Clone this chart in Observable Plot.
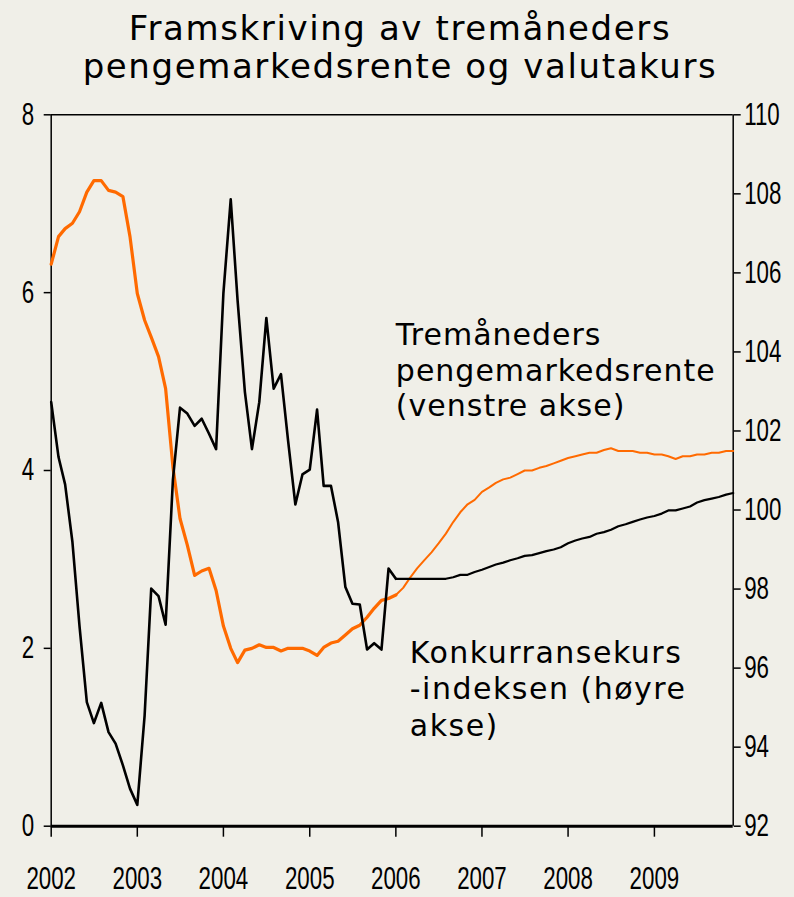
<!DOCTYPE html>
<html>
<head>
<meta charset="utf-8">
<script src="https://cdn.jsdelivr.net/npm/d3@7"></script>
<script src="https://cdn.jsdelivr.net/npm/@observablehq/plot@0.6"></script>
<style>
  html, body { margin: 0; padding: 0; background: #f0efe8; }
  #title {
    box-sizing: border-box; height: 100px; padding-top: 9px; padding-left: 6px;
    font-family: "DejaVu Sans", Verdana, sans-serif; font-size: 34px; line-height: 38px;
    text-align: center; color: #000; letter-spacing: 1.6px;
  }
  #chart svg { display: block; overflow: visible; }
</style>
</head>
<body>
<div id="title">Framskriving av tremåneders<br>pengemarkedsrente og valutakurs</div>
<div id="chart"></div>
<script>
// Monthly data, January 2002 – December 2009
const startYear = 2002;
const rente = [
  6.32, 6.63, 6.72, 6.78, 6.91, 7.13, 7.26, 7.26, 7.15, 7.13, 7.08, 6.63,
  5.99, 5.69, 5.50, 5.28, 4.92, 4.04, 3.46, 3.16, 2.82, 2.87, 2.90, 2.65,
  2.25, 2.00, 1.84, 1.98, 2.00, 2.04, 2.01, 2.01, 1.97, 2.00, 2.00, 2.00,
  1.97, 1.92, 2.01, 2.06, 2.08, 2.15, 2.22, 2.26, 2.35, 2.45, 2.54, 2.56,
  2.60, 2.68, 2.79, 2.90, 2.99, 3.08, 3.18, 3.29, 3.42, 3.53, 3.62, 3.67,
  3.76, 3.81, 3.86, 3.90, 3.92, 3.96, 4.00, 4.00, 4.03, 4.05, 4.08, 4.11,
  4.14, 4.16, 4.18, 4.20, 4.20, 4.23, 4.25, 4.22, 4.22, 4.22, 4.20, 4.20,
  4.18, 4.18, 4.16, 4.13, 4.16, 4.16, 4.18, 4.18, 4.20, 4.20, 4.22, 4.22
];
const kurs = [
  102.73, 101.34, 100.65, 99.19, 97.06, 95.14, 94.61, 95.12, 94.38, 94.09, 93.54, 92.95,
  92.54, 94.80, 98.01, 97.82, 97.10, 100.77, 102.59, 102.44, 102.13, 102.31, 101.93, 101.54,
  105.49, 107.86, 105.31, 102.99, 101.54, 102.73, 104.86, 103.07, 103.44, 101.76, 100.14, 100.90,
  101.02, 102.54, 100.61, 100.61, 99.70, 98.05, 97.63, 97.61, 96.47, 96.63, 96.47, 98.52,
  98.26, 98.26, 98.26, 98.26, 98.26, 98.26, 98.26, 98.26, 98.30, 98.36, 98.36, 98.43,
  98.49, 98.56, 98.62, 98.67, 98.73, 98.78, 98.84, 98.86, 98.91, 98.96, 99.00, 99.06,
  99.16, 99.23, 99.28, 99.32, 99.40, 99.44, 99.50, 99.59, 99.64, 99.70, 99.76, 99.81,
  99.85, 99.91, 99.99, 99.99, 100.04, 100.09, 100.19, 100.25, 100.29, 100.33, 100.39, 100.43
];
const forecastStart = 48; // January 2006: projection begins
const yearTicks = [2002, 2003, 2004, 2005, 2006, 2007, 2008, 2009];
const leftTicks = [0, 2, 4, 6, 8];
const rightTicks = [92, 94, 96, 98, 100, 102, 104, 106, 108, 110];
const leftDomain = [0, 8];
const rightDomain = [92, 110];
const labelTexts = ["Tremåneders\npengemarkedsrente\n(venstre akse)", "Konkurransekurs\n-indeksen (høyre\nakse)"];
const labelMonths = [48, 50];
const labelValues = [5.69, 2.13];
const labelSpacing = [1.0, 1.5];

// ---- build tables
const monthDate = (m) => new Date(Date.UTC(startYear, m, 1));
const toLeft = (v) => (v - rightDomain[0]) / (rightDomain[1] - rightDomain[0]) * (leftDomain[1] - leftDomain[0]) + leftDomain[0];
const fromLeft = (d) => rightDomain[0] + (d - leftDomain[0]) / (leftDomain[1] - leftDomain[0]) * (rightDomain[1] - rightDomain[0]);
const renteRows = rente.map((v, i) => ({date: monthDate(i), v, i}));
const kursRows = kurs.map((v, i) => ({date: monthDate(i), v: toLeft(v), i}));
const labels = labelTexts.map((t, i) => ({date: monthDate(labelMonths[i]), v: labelValues[i], t}));
const xStart = monthDate(0), xEnd = monthDate(rente.length - 1);

const tickFont = "'Liberation Sans', Arial, sans-serif";
const labelFont = "'DejaVu Sans', Verdana, sans-serif";
const orange = "#ff6a00";

const chart = Plot.plot({
  width: 794,
  height: 797,
  marginTop: 14.3,
  marginBottom: 71.3,
  marginLeft: 50.7,
  marginRight: 61.3,
  style: {background: "transparent", color: "#000", fontFamily: tickFont, overflow: "visible"},
  x: {type: "utc", domain: [xStart, xEnd]},
  y: {domain: leftDomain},
  marks: [
    Plot.axisX({ticks: yearTicks.map(y => new Date(Date.UTC(y, 0, 1))), tickFormat: d => String(d.getUTCFullYear()),
      tickSize: 11, tickPadding: 30, fontSize: 31, stroke: "#000", strokeWidth: 1.5, label: null, fontFamily: tickFont}),
    Plot.axisY({ticks: leftTicks, tickSize: 7, tickPadding: 10, fontSize: 31, strokeWidth: 1.5, label: null, fontFamily: tickFont}),
    Plot.axisY({anchor: "right", ticks: rightTicks.map(toLeft), tickFormat: d => String(Math.round(fromLeft(d))),
      tickSize: 7, tickPadding: 4, fontSize: 31, strokeWidth: 1.5, label: null, fontFamily: tickFont}),
    Plot.ruleY([leftDomain[1]], {stroke: "#000", strokeWidth: 1.5}),
    Plot.ruleX([xStart], {stroke: "#000", strokeWidth: 1.5}),
    Plot.ruleX([xEnd], {stroke: "#000", strokeWidth: 1.5}),
    Plot.line(renteRows.filter(d => d.i >= forecastStart), {x: "date", y: "v", stroke: orange, strokeWidth: 2}),
    Plot.line(renteRows.filter(d => d.i <= forecastStart), {x: "date", y: "v", stroke: orange, strokeWidth: 3.2}),
    Plot.line(kursRows.filter(d => d.i >= forecastStart), {x: "date", y: "v", stroke: "#000", strokeWidth: 2.2}),
    Plot.line(kursRows.filter(d => d.i <= forecastStart), {x: "date", y: "v", stroke: "#000", strokeWidth: 2.6}),
    Plot.ruleY([leftDomain[0]], {stroke: "#000", strokeWidth: 3}),
    Plot.text(labels.slice(0, 1), {x: "date", y: "v", text: "t", textAnchor: "start", lineAnchor: "top", lineHeight: 1.18,
      fontSize: 30, fontFamily: labelFont, fill: "#000"}),
    Plot.text(labels.slice(1), {x: "date", y: "v", text: "t", textAnchor: "start", lineAnchor: "top", lineHeight: 1.22,
      fontSize: 30, fontFamily: labelFont, fill: "#000"})
  ]
});
document.getElementById("chart").appendChild(chart);

// letter spacing of the in-chart labels (wider typeface in the original)
for (const t of chart.querySelectorAll("text")) {
  const k = labelTexts.findIndex(s => t.textContent.startsWith(s.split("\n")[0]));
  if (k >= 0) {
    t.setAttribute("letter-spacing", labelSpacing[k]);
    t.style.letterSpacing = labelSpacing[k] + "px";
  }
}

// condense the tick labels horizontally (narrow tick font in the original),
// scaling each label about its own anchor so its position is unchanged
for (const t of chart.querySelectorAll('g[aria-label$="tick label"] text')) {
  const b = t.getBBox();
  const anchor = t.getAttribute("text-anchor") || getComputedStyle(t).textAnchor || "start";
  const ax = anchor === "middle" ? b.x + b.width / 2 : anchor === "end" ? b.x + b.width : b.x;
  const tr = t.getAttribute("transform") || "";
  t.setAttribute("transform", `${tr} translate(${ax},0) scale(0.72,1) translate(${-ax},0)`);
}
</script>
</body>
</html>
